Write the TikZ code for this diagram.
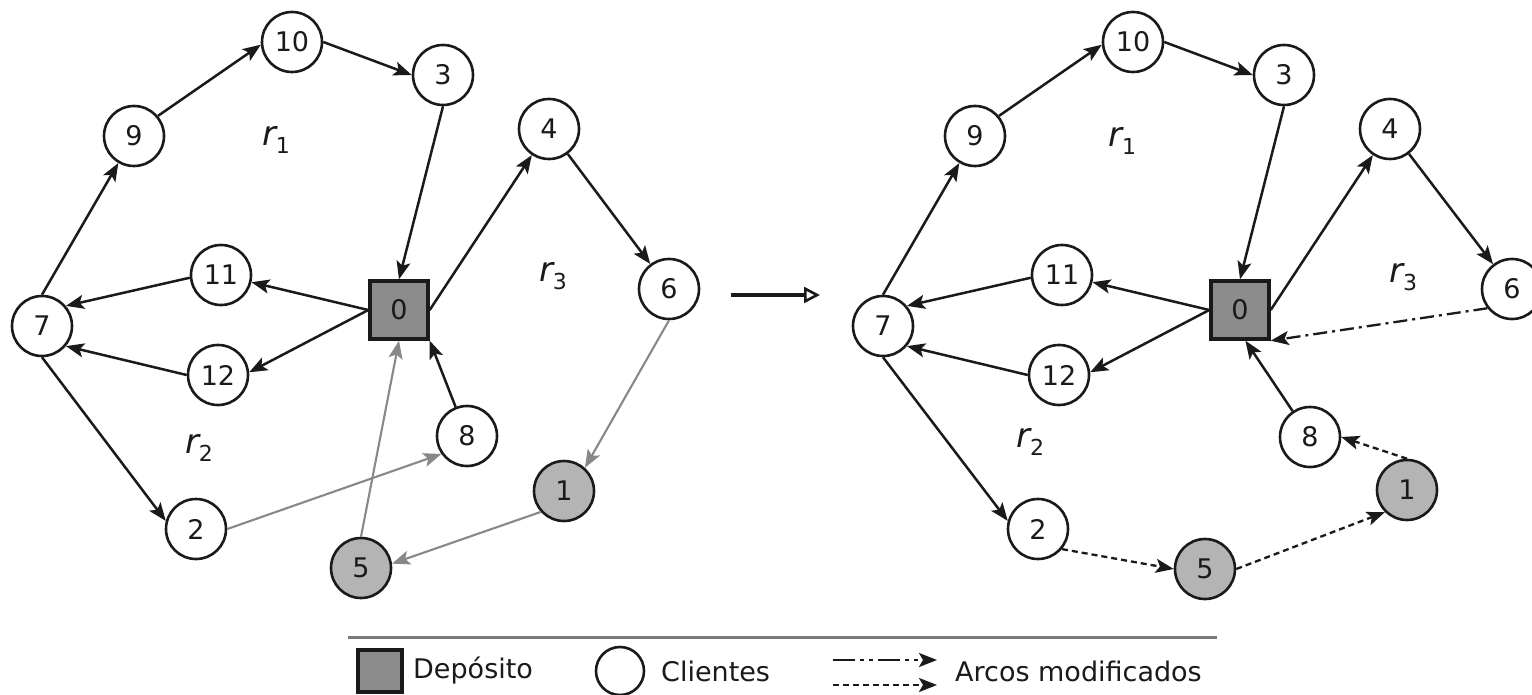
\documentclass[tikz,border=0pt]{standalone}
\usepackage{fontspec}
\setmainfont{DejaVu Sans}
\usetikzlibrary{arrows.meta}
\definecolor{depotgray}{HTML}{8C8C8C}
\definecolor{visitgray}{HTML}{B4B4B4}
\definecolor{oldgray}{HTML}{888888}
\definecolor{rulegray}{HTML}{7A7A7A}
\definecolor{inkcol}{HTML}{1A1A1A}
\begin{document}
\begin{tikzpicture}[x=1pt,y=-1pt,
  client/.style={circle,draw=inkcol,line width=2.6pt,minimum size=60pt,inner sep=0pt,fill=white,text=inkcol,font=\fontsize{27}{30}\selectfont},
  moved/.style={client,fill=visitgray},
  depot/.style={rectangle,draw=inkcol,line width=3.4pt,minimum size=58pt,inner sep=0pt,fill=depotgray,text=inkcol,font=\fontsize{27}{30}\selectfont},
  arcline/.style={draw=inkcol,line width=2.5pt,-{Stealth[length=18pt,width=14pt,inset=4pt]}},
  oldarcline/.style={arcline,draw=oldgray,line width=2.1pt},
  newdash/.style={arcline,line width=2.3pt,dash pattern=on 6pt off 4pt},
  newdashdot/.style={arcline,line width=2.3pt,dash pattern=on 14pt off 5pt on 3pt off 5pt},
  rlabel/.style={inner sep=0pt,text=inkcol,font=\fontsize{34}{36}\selectfont\itshape},
  legendtext/.style={anchor=west,inner sep=0pt,text=inkcol,font=\fontsize{27}{32}\selectfont}
]
\useasboundingbox[fill=white] (0,0) rectangle (1532,695);
\newcommand{\rsub}[1]{r\raisebox{-8pt}{\fontsize{22}{24}\selectfont\upshape #1}}

% ---------- left diagram ----------
\node[client] (L10) at (292,42) {10};
\node[client] (L3) at (443,75) {3};
\node[client] (L9) at (134,136) {9};
\node[client] (L4) at (549,129) {4};
\node[client] (L11) at (221,275) {11};
\node[depot] (L0) at (399,310) {0};
\node[client] (L6) at (669,289) {6};
\node[client] (L7) at (42,326) {7};
\node[client] (L12) at (218,375) {12};
\node[client] (L8) at (467,436) {8};
\node[moved] (L1) at (564,491) {1};
\node[client] (L2) at (196,529) {2};
\node[moved] (L5) at (361,568) {5};
\node[rlabel] (Lr1) at (276,140) {\rsub{1}};
\node[rlabel] (Lr2) at (199,448) {\rsub{2}};
\node[rlabel] (Lr3) at (553,276) {\rsub{3}};

\draw[arcline] (L7.north) -- (L9);
\draw[arcline] (L9.40) -- (L10.185);
\draw[arcline] (L10.east) -- (L3.west);
\draw[arcline] (L3.south) -- (L0.north);
\draw[arcline] (L0.east) -- (L4);
\draw[arcline] (L4) -- (L6);
\draw[arcline] (L0.west) -- (L11);
\draw[arcline] (L0.west) -- (L12.5);
\draw[arcline] (L11.185) -- (L7.40);
\draw[arcline] (L12.west) -- (L7.-40);
\draw[arcline] (L7.south) -- (L2.165);
\draw[arcline] (L8) -- (L0.south east);
\draw[oldarcline] (L6.south) -- (L1.48);
\draw[oldarcline] (L1.222) -- (L5.8);
\draw[oldarcline] (L5.north) -- (L0.south);
\draw[oldarcline] (L2.east) -- (L8.215);

% ---------- transition arrow ----------
\coordinate (TA) at (731,295);
\coordinate (TB) at (820,295);
\draw[line width=3.6pt,draw=inkcol,-{Triangle[open,length=16pt,width=16pt,line width=2.6pt]}] (TA) -- (TB);

% ---------- right diagram ----------
\node[client] (R10) at (1133,42) {10};
\node[client] (R3) at (1284,75) {3};
\node[client] (R9) at (975,136) {9};
\node[client] (R4) at (1390,129) {4};
\node[client] (R11) at (1062,275) {11};
\node[depot] (R0) at (1240,310) {0};
\node[client] (R6) at (1512,289) {6};
\node[client] (R7) at (883,326) {7};
\node[client] (R12) at (1059,375) {12};
\node[client] (R8) at (1310,437) {8};
\node[moved] (R1) at (1407,490) {1};
\node[client] (R2) at (1038,529) {2};
\node[moved] (R5) at (1205,569) {5};
\node[rlabel] (Rr1) at (1122,141) {\rsub{1}};
\node[rlabel] (Rr2) at (1030,442) {\rsub{2}};
\node[rlabel] (Rr3) at (1403,277) {\rsub{3}};

\draw[arcline] (R7.north) -- (R9);
\draw[arcline] (R9.40) -- (R10.185);
\draw[arcline] (R10.east) -- (R3.west);
\draw[arcline] (R3.south) -- (R0.north);
\draw[arcline] (R0.east) -- (R4);
\draw[arcline] (R4) -- (R6);
\draw[arcline] (R0.west) -- (R11);
\draw[arcline] (R0.west) -- (R12.5);
\draw[arcline] (R11.185) -- (R7.40);
\draw[arcline] (R12.west) -- (R7.-40);
\draw[arcline] (R7.south) -- (R2.165);
\draw[arcline] (R8) -- (R0.-80);
\draw[newdashdot] (R6.218) -- (R0.south east);
\draw[newdash] (R1.north) -- (R8.east);
\draw[newdash] (R2.-40) -- (R5.west);
\draw[newdash] (R5.east) -- (R1.225);

% ---------- legend ----------
\coordinate (LegA) at (348,637);
\coordinate (LegB) at (1217,637);
\draw[draw=rulegray,line width=3pt] (LegA) -- (LegB);
\node[rectangle,draw=inkcol,line width=3.4pt,fill=depotgray,minimum width=44pt,minimum height=42pt,inner sep=0pt] (LegDepot) at (380,671) {};
\node[legendtext] (LegDepotTxt) at (413,671) {Depósito};
\node[circle,draw=inkcol,line width=2.6pt,minimum size=48pt,inner sep=0pt] (LegClient) at (620,671) {};
\node[legendtext] (LegClientTxt) at (661,671) {Clientes};
\coordinate (LdA) at (833,660);
\coordinate (LdB) at (937,660);
\coordinate (LeA) at (833,685);
\coordinate (LeB) at (937,685);
\draw[newdashdot,dash pattern=on 22pt off 5pt on 4pt off 5pt on 4pt off 5pt] (LdA) -- (LdB);
\draw[newdash] (LeA) -- (LeB);
\node[legendtext] (LegArcTxt) at (955,671) {Arcos modificados};
\end{tikzpicture}
\end{document}
